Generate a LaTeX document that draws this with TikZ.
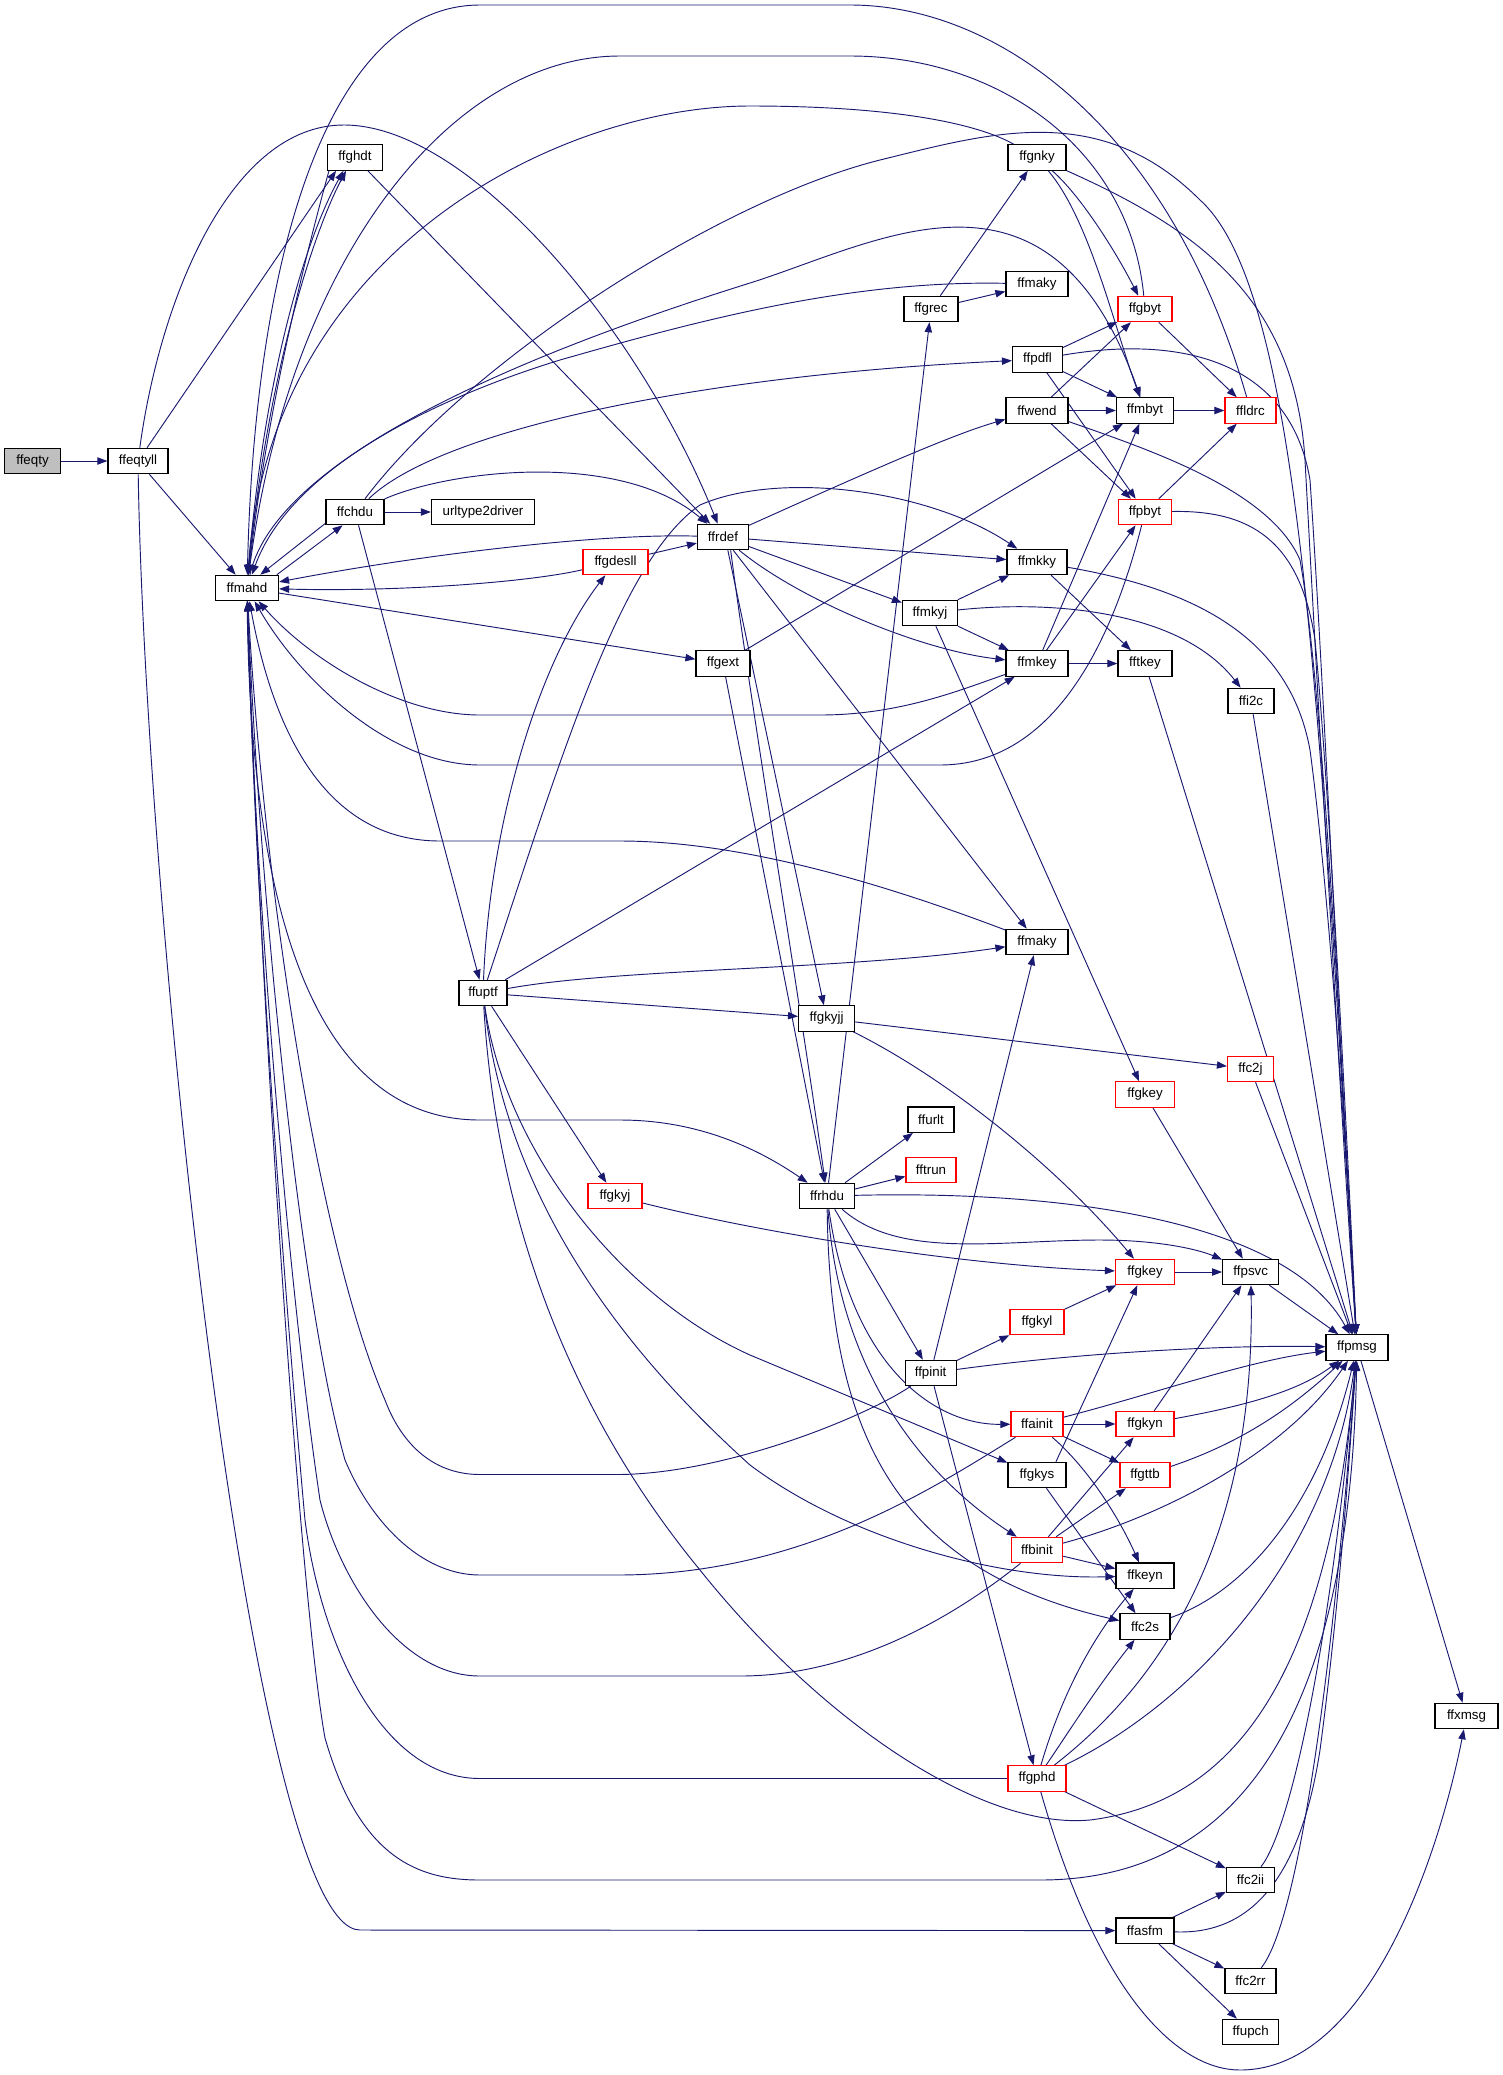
\documentclass[tikz,border=0pt]{standalone}
\usepackage{fontspec}
\setmainfont{Liberation Sans}
\usetikzlibrary{arrows.meta,backgrounds}
\definecolor{edgec}{HTML}{191970}
\definecolor{rootfill}{HTML}{BFBFBF}
\tikzset{
  fn/.style={draw=black, line width=0.9pt, fill=white, minimum height=19pt, inner sep=0pt, font=\fontsize{10}{12}\selectfont},
  fnr/.style={fn, draw=red},
  e/.style={draw=edgec, line width=0.7pt, -{Triangle[length=7.5pt,width=5.5pt]}}
}
\begin{document}
\begin{tikzpicture}[x=0.75pt,y=-0.75pt]
\useasboundingbox (0,0) rectangle (1503,2075);
% nodes
\node[fn, fill=rootfill, minimum width=42pt] (ffeqty) at (32.5,461) {ffeqty};
\node[fn, minimum width=45pt] (ffeqtyll) at (138,461) {ffeqtyll};
\node[fn, minimum width=47.25pt] (ffmahd) at (247,588) {ffmahd};
\node[fn, minimum width=41.25pt] (ffghdt) at (355,157.5) {ffghdt};
\node[fn, minimum width=43.5pt] (ffchdu) at (355,512) {ffchdu};
\node[fn, minimum width=77.25pt] (urltype2driver) at (483,512) {urltype2driver};
\node[fn, minimum width=36pt] (ffuptf) at (483,993) {ffuptf};
\node[fnr, minimum width=48.75pt] (ffgdesll) at (615.5,562) {ffgdesll};
\node[fnr, minimum width=40.5pt] (ffgkyj) at (615,1196) {ffgkyj};
\node[fn, minimum width=38.25pt] (ffrdef) at (723,537) {ffrdef};
\node[fn, minimum width=40.5pt] (ffgext) at (723,663.5) {ffgext};
\node[fn, minimum width=40.5pt] (ffgrec) at (931,309) {ffgrec};
\node[fn, minimum width=41.25pt] (ffmkyj) at (930,613) {ffmkyj};
\node[fn, minimum width=42pt] (ffgkyjj) at (826.6,1018.5) {ffgkyjj};
\node[fn, minimum width=41.25pt] (ffrhdu) at (827,1196) {ffrhdu};
\node[fn, minimum width=34.5pt] (ffurlt) at (931,1119.6) {ffurlt};
\node[fnr, minimum width=37.5pt] (fftrun) at (931,1170) {fftrun};
\node[fn, minimum width=38.25pt] (ffpinit) at (930.6,1373) {ffpinit};
\node[fn, minimum width=43.5pt] (ffgnky) at (1037,157.5) {ffgnky};
\node[fn, minimum width=46.5pt] (ffmakyA) at (1037,284) {ffmaky};
\node[fn, minimum width=37.5pt] (ffpdfl) at (1037.5,359.5) {ffpdfl};
\node[fn, minimum width=46.5pt] (ffwend) at (1037,410.5) {ffwend};
\node[fn, minimum width=45pt] (ffmkky) at (1037,562) {ffmkky};
\node[fn, minimum width=46.5pt] (ffmkey) at (1037,663.5) {ffmkey};
\node[fn, minimum width=46.5pt] (ffmakyB) at (1037,942) {ffmaky};
\node[fnr, minimum width=40.5pt] (ffgkyl) at (1037,1322) {ffgkyl};
\node[fnr, minimum width=39pt] (ffainit) at (1037,1424) {ffainit};
\node[fn, minimum width=43.5pt] (ffgkys) at (1037,1475) {ffgkys};
\node[fnr, minimum width=38.25pt] (ffbinit) at (1037,1550) {ffbinit};
\node[fnr, minimum width=43.5pt] (ffgphd) at (1037,1778.5) {ffgphd};
\node[fnr, minimum width=40.5pt] (ffgbyt) at (1145,309) {ffgbyt};
\node[fn, minimum width=42.75pt] (ffmbyt) at (1145,410.5) {ffmbyt};
\node[fnr, minimum width=39.75pt] (ffpbyt) at (1145,512) {ffpbyt};
\node[fn, minimum width=40.5pt] (fftkey) at (1145,663.5) {fftkey};
\node[fnr, minimum width=44.25pt] (ffgkeyA) at (1145,1094.5) {ffgkey};
\node[fnr, minimum width=44.25pt] (ffgkeyB) at (1145,1272) {ffgkey};
\node[fnr, minimum width=43.5pt] (ffgkyn) at (1145,1424) {ffgkyn};
\node[fnr, minimum width=37.5pt] (ffgttb) at (1145,1475) {ffgttb};
\node[fn, minimum width=43.5pt] (ffkeyn) at (1145,1575.6) {ffkeyn};
\node[fn, minimum width=37.5pt] (ffc2s) at (1145,1626.5) {ffc2s};
\node[fn, minimum width=43.5pt] (ffasfm) at (1145,1930.6) {ffasfm};
\node[fnr, minimum width=38.25pt] (ffldrc) at (1250.5,410.5) {ffldrc};
\node[fn, minimum width=34.5pt] (ffi2c) at (1251,701) {ffi2c};
\node[fnr, minimum width=34.5pt] (ffc2j) at (1250.5,1069) {ffc2j};
\node[fn, minimum width=42pt] (ffpsvc) at (1250.7,1272) {ffpsvc};
\node[fn, minimum width=36pt] (ffc2ii) at (1250.5,1880) {ffc2ii};
\node[fn, minimum width=38.25pt] (ffc2rr) at (1250.5,1981) {ffc2rr};
\node[fn, minimum width=42pt] (ffupch) at (1250.7,2032) {ffupch};
\node[fn, minimum width=46.5pt] (ffpmsg) at (1357,1347.5) {ffpmsg};
\node[fn, minimum width=47.25pt] (ffxmsg) at (1466.5,1716) {ffxmsg};

\begin{scope}[on background layer]
% straight edges
\draw[e] (ffeqty) -- (ffeqtyll);
\draw[e] (ffeqtyll) -- (ffmahd);
\draw[e] (ffeqtyll) -- (ffghdt.215);
\draw[e] (ffmahd.24) -- (ffchdu.227);
\draw[e] (ffchdu.201) -- (ffmahd.45);
\draw[e] (ffchdu) -- (urltype2driver);
\draw[e] (ffchdu) -- (ffuptf);
\draw[e] (ffmahd) -- (ffgext);
\draw[e] (ffgdesll) -- (ffrdef);
\draw[e] (ffghdt) -- (ffrdef);
\draw[e] (ffgrec) -- (ffgnky);
\draw[e] (ffgrec) -- (ffmakyA);
\draw[e] (ffpdfl) -- (ffgbyt);
\draw[e] (ffpdfl) -- (ffmbyt);
\draw[e] (ffpdfl) -- (ffpbyt);
\draw[e] (ffwend) -- (ffmbyt);
\draw[e] (ffwend) -- (ffgbyt);
\draw[e] (ffwend) -- (ffpbyt);
\draw[e] (ffmbyt) -- (ffldrc);
\draw[e] (ffgbyt) -- (ffldrc);
\draw[e] (ffpbyt) -- (ffldrc);
\draw[e] (ffmkyj) -- (ffmkky);
\draw[e] (ffmkyj) -- (ffmkey);
\draw[e] (ffmkyj) -- (ffgkeyA);
\draw[e] (ffmkky) -- (fftkey);
\draw[e] (ffmkey) -- (fftkey);
\draw[e] (ffmkey) -- (ffmbyt);
\draw[e] (ffmkey) -- (ffpbyt);
\draw[e] (ffgext) -- (ffmbyt);
\draw[e] (ffgext) -- (ffrhdu);
\draw[e] (ffrdef.-70) -- (ffgkyjj);
\draw[e] (ffrdef) -- (ffmkky);
\draw[e] (ffrdef) -- (ffmkyj);
\draw[e] (ffrdef) -- (ffmakyB);
\draw[e] (ffrhdu) -- (ffurlt);
\draw[e] (ffrhdu) -- (fftrun);
\draw[e] (ffrhdu) -- (ffpinit);
\draw[e] (ffrhdu) -- (ffgrec);
\draw[e] (ffpinit) -- (ffgkyl);
\draw[e] (ffgkyl) -- (ffgkeyB);
\draw[e] (ffpinit) -- (ffmakyB);
\draw[e] (ffpinit) -- (ffgphd);
\draw[e] (ffgkeyA) -- (ffpsvc);
\draw[e] (ffgkeyB) -- (ffpsvc);
\draw[e] (ffpsvc) -- (ffpmsg);
\draw[e] (ffc2j) -- (ffpmsg);
\draw[e] (ffi2c) -- (ffpmsg);
\draw[e] (fftkey) -- (ffpmsg);
\draw[e] (ffgkyjj) -- (ffc2j);
\draw[e] (ffuptf) -- (ffgkyj);
\draw[e] (ffuptf) -- (ffgkyjj);
\draw[e] (ffuptf) -- (ffmkey);
\draw[e] (ffainit) -- (ffgkyn);
\draw[e] (ffainit) -- (ffgttb);
\draw[e] (ffbinit) -- (ffgkyn);
\draw[e] (ffbinit) -- (ffgttb);
\draw[e] (ffbinit) -- (ffkeyn);
\draw[e] (ffgkys) -- (ffc2s);
\draw[e] (ffgkys.35) -- (ffgkeyB.240);
\draw[e] (ffgkyn) -- (ffpsvc);
\draw[e] (ffgphd) -- (ffc2ii);
\draw[e] (ffasfm) -- (ffc2ii);
\draw[e] (ffasfm) -- (ffc2rr);
\draw[e] (ffasfm) -- (ffupch);
\draw[e] (ffpmsg) -- (ffxmsg);
% curved edges
\draw[e] (ffeqtyll) .. controls (160,300) and (230,125) .. (344,125) .. controls (470,125) and (640,330) .. (ffrdef);
\draw[e] (ffeqtyll) .. controls (145,900) and (250,1930) .. (360,1930) -- (ffasfm);
\draw[e] (ffmahd) .. controls (260,1000) and (300,1600) .. (325,1738) .. controls (360,1860) and (420,1880) .. (480,1880) -- (1040,1880) .. controls (1250,1880) and (1350,1700) .. (ffpmsg);
\draw[e] (ffgphd) -- (480,1778.5) .. controls (380,1778.5) and (320,1640) .. (305,1520) .. controls (285,1300) and (255,900) .. (ffmahd);
\draw[e] (ffbinit) .. controls (950,1620) and (850,1676) .. (740,1676) -- (480,1676) .. controls (400,1676) and (340,1580) .. (320,1500) .. controls (290,1300) and (255,900) .. (ffmahd);
\draw[e] (ffainit) .. controls (930,1490) and (800,1575) .. (617,1575) -- (480,1575) .. controls (420,1575) and (370,1520) .. (345,1460) .. controls (300,1300) and (260,900) .. (ffmahd);
\draw[e] (ffpinit) .. controls (860,1420) and (720,1474.5) .. (617,1474.5) -- (480,1474.5) .. controls (430,1474.5) and (400,1440) .. (385,1400) .. controls (320,1250) and (265,900) .. (ffmahd);
\draw[e] (ffmahd) .. controls (250,900) and (310,1120) .. (480,1120) -- (620,1120) .. controls (700,1120) and (760,1150) .. (ffrhdu);
\draw[e] (ffmakyB) .. controls (900,890) and (750,841) .. (620,841) -- (440,841) .. controls (330,841) and (275,740) .. (ffmahd);
\draw[e] (ffpbyt) .. controls (1110,650) and (1050,765) .. (940,765) -- (480,765) .. controls (390,765) and (300,680) .. (ffmahd);
\draw[e] (ffmkey) .. controls (960,690) and (900,715) .. (820,715) -- (480,715) .. controls (400,715) and (310,660) .. (ffmahd);
\draw[e] (ffrdef) .. controls (600,533) and (420,555) .. (ffmahd);
\draw[e] (ffgdesll) .. controls (530,582) and (400,592) .. (ffmahd);
\draw[e] (ffuptf) .. controls (490,820) and (540,660) .. (ffgdesll);
\draw[e] (ffuptf) .. controls (560,760) and (620,560) .. (700,505) .. controls (780,470) and (930,490) .. (ffmkky);
\draw[e] (ffuptf) .. controls (620,968) and (850,970) .. (ffmakyB);
\draw[e] (ffuptf) .. controls (505,1150) and (620,1296.5) .. (750,1355) -- (ffgkys);
\draw[e] (ffuptf) .. controls (505,1180) and (600,1330) .. (750,1465) .. controls (850,1540) and (1000,1580) .. (ffkeyn);
\draw[e] (ffuptf) .. controls (495,1200) and (560,1400) .. (700,1570) .. controls (820,1720) and (980,1830) .. (1090,1820) .. controls (1250,1800) and (1330,1650) .. (ffpmsg);
\draw[e] (ffchdu) .. controls (450,470) and (620,450) .. (ffrdef);
\draw[e] (ffchdu) .. controls (440,430) and (700,375) .. (ffpdfl);
\draw[e] (ffchdu) .. controls (470,360) and (720,200) .. (880,160) .. controls (990,133) and (1100,100) .. (1200,200) .. controls (1300,290) and (1320,700) .. (ffpmsg);
\draw[e] (ffgnky) .. controls (980,125) and (900,106) .. (750,106) .. controls (560,106) and (270,250) .. (ffmahd);
\draw[e] (ffgbyt) .. controls (1130,150) and (1000,56) .. (850,56) -- (620,56) .. controls (450,56) and (290,260) .. (ffmahd);
\draw[e] (ffldrc) .. controls (1170,130) and (1000,5) .. (850,5) -- (480,5) .. controls (330,5) and (255,250) .. (ffmahd);
\draw[e] (ffmakyA) .. controls (850,280) and (700,320) .. (560,360) .. controls (430,400) and (290,470) .. (ffmahd);
\draw[e] (ffmahd) .. controls (280,440) and (600,330) .. (750,283) .. controls (880,242) and (1050,140) .. (ffmbyt);
\draw[e] (ffghdt.207) .. controls (310,240) and (268,400) .. (ffmahd);
\draw[e] (ffmahd) .. controls (262,390) and (302,245) .. (ffghdt.229);
\draw[e] (ffmahd) .. controls (266,380) and (312,235) .. (ffghdt.236);
\draw[e] (ffrdef) .. controls (850,480) and (950,435) .. (ffwend);
\draw[e] (ffrdef) .. controls (800,600) and (920,650) .. (ffmkey);
\draw[e] (ffrdef.-60) .. controls (750,700) and (800,1000) .. (ffrhdu);
\draw[e] (ffgnky) .. controls (1080,195) and (1115,250) .. (ffgbyt);
\draw[e] (ffgnky) .. controls (1090,220) and (1115,330) .. (ffmbyt);
\draw[e] (ffgnky) .. controls (1200,230) and (1295,300) .. (1305,460) .. controls (1318,700) and (1340,1100) .. (ffpmsg);
\draw[e] (ffpdfl) .. controls (1180,335) and (1290,360) .. (1310,480) .. controls (1325,700) and (1342,1100) .. (ffpmsg);
\draw[e] (ffwend) .. controls (1150,450) and (1270,490) .. (1300,560) .. controls (1325,700) and (1343,1100) .. (ffpmsg);
\draw[e] (ffpbyt) .. controls (1250,510) and (1300,540) .. (1315,640) .. controls (1330,800) and (1345,1100) .. (ffpmsg);
\draw[e] (ffmkky) .. controls (1200,590) and (1290,640) .. (1310,750) .. controls (1330,900) and (1346,1150) .. (ffpmsg);
\draw[e] (ffmkyj) .. controls (1050,600) and (1180,610) .. (ffi2c);
\draw[e] (ffgkyjj) .. controls (950,1080) and (1060,1170) .. (ffgkeyB);
\draw[e] (ffgkyj) .. controls (750,1230) and (950,1265) .. (ffgkeyB);
\draw[e] (ffpinit) .. controls (1100,1350) and (1250,1345) .. (ffpmsg);
\draw[e] (ffrhdu) .. controls (1080,1190) and (1290,1225) .. (ffpmsg);
\draw[e] (ffrhdu) .. controls (900,1260) and (1000,1240) .. (1100,1240) .. controls (1160,1240) and (1200,1250) .. (ffpsvc);
\draw[e] (ffrhdu) .. controls (850,1360) and (930,1425) .. (ffainit);
\draw[e] (ffrhdu) .. controls (840,1380) and (930,1480) .. (ffbinit);
\draw[e] (ffrhdu) .. controls (830,1440) and (900,1570) .. (ffc2s);
\draw[e] (ffainit) .. controls (1090,1470) and (1120,1520) .. (ffkeyn);
\draw[e] (ffainit) .. controls (1150,1395) and (1250,1360) .. (ffpmsg);
\draw[e] (ffbinit) .. controls (1150,1520) and (1280,1460) .. (ffpmsg);
\draw[e] (ffgkyn) .. controls (1250,1405) and (1300,1390) .. (ffpmsg);
\draw[e] (ffgttb) .. controls (1250,1440) and (1300,1400) .. (ffpmsg);
\draw[e] (ffc2s) .. controls (1250,1590) and (1320,1500) .. (ffpmsg);
\draw[e] (ffgphd) .. controls (1200,1700) and (1330,1550) .. (ffpmsg);
\draw[e] (ffgphd) .. controls (1190,1660) and (1255,1500) .. (ffpsvc);
\draw[e] (ffgphd) .. controls (1060,1700) and (1090,1640) .. (ffkeyn);
\draw[e] (ffgphd) .. controls (1070,1730) and (1095,1690) .. (ffc2s);
\draw[e] (ffgphd) .. controls (1100,2000) and (1180,2070) .. (1240,2070) .. controls (1370,2070) and (1440,1850) .. (ffxmsg);
\draw[e] (ffasfm) .. controls (1250,1935) and (1300,1880) .. (1320,1750) .. controls (1340,1600) and (1350,1450) .. (ffpmsg);
\draw[e] (ffc2ii) .. controls (1290,1830) and (1330,1650) .. (ffpmsg);
\draw[e] (ffc2rr) .. controls (1300,1920) and (1335,1650) .. (ffpmsg);
\end{scope}
\end{tikzpicture}
\end{document}
